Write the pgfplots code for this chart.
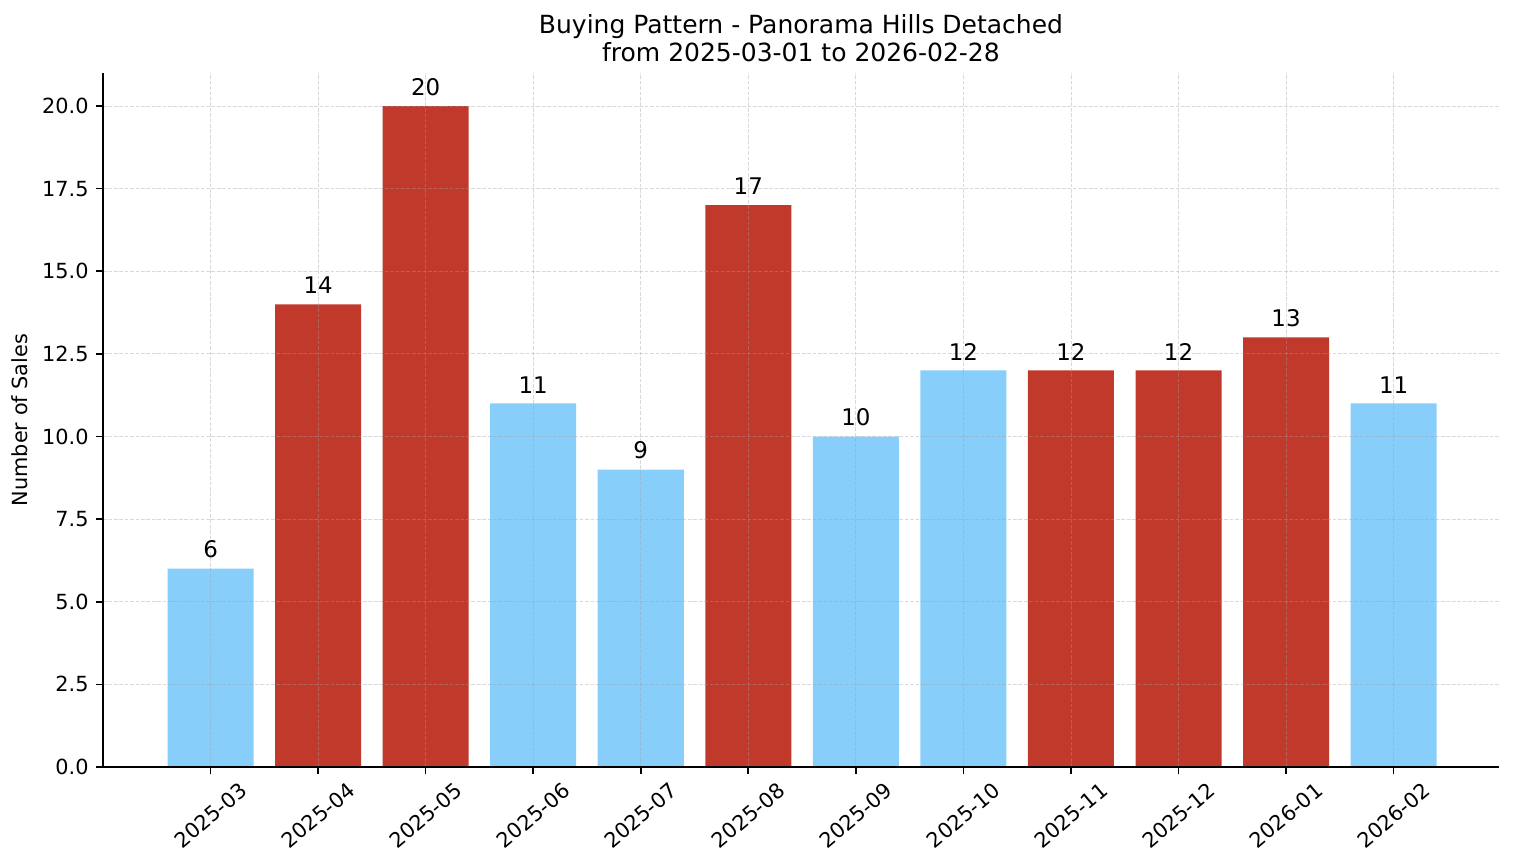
\documentclass[border=0pt]{standalone}
\usepackage{fontspec}
\setmainfont{DejaVu Sans}
\usepackage{pgfplots}
\pgfplotsset{compat=1.18}

\definecolor{barred}{HTML}{C0392B}
\definecolor{barblue}{HTML}{87CEFA}
\definecolor{gridgray}{HTML}{A0A0A0}

% 1 px of the reference = 0.48pt
\begin{document}
\begin{tikzpicture}
\path[use as bounding box] (-49.44pt,-46.08pt) rectangle (677.28pt,368.16pt);
\begin{axis}[
    at={(0,0)}, anchor=south west,
    scale only axis,
    width=670.08pt, height=333.12pt,
    xmin=-1.0, xmax=11.98,
    ymin=0, ymax=21,
    axis x line*=bottom, axis y line*=left,
    axis line style={-, line width=0.8pt},
    axis on top,
    ybar, bar width=0.8, bar shift=0pt,
    xtick={0,...,11},
    xticklabels={\rotatebox{40}{2025-03},\rotatebox{40}{2025-04},\rotatebox{40}{2025-05},
        \rotatebox{40}{2025-06},\rotatebox{40}{2025-07},\rotatebox{40}{2025-08},
        \rotatebox{40}{2025-09},\rotatebox{40}{2025-10},\rotatebox{40}{2025-11},
        \rotatebox{40}{2025-12},\rotatebox{40}{2026-01},\rotatebox{40}{2026-02}},
    xticklabel style={anchor=north, font=\fontsize{10}{12}\selectfont},
    ytick={0,2.5,...,20},
    yticklabel style={font=\fontsize{10}{12}\selectfont,
        /pgf/number format/.cd, fixed, fixed zerofill, precision=1},
    /pgf/number format/assume math mode=true,
    tick align=outside,
    major tick length=3.4pt,
    tick style={black, line width=0.8pt},
    grid=major,
    major grid style={gridgray, draw opacity=0.4, dash pattern=on 1.8pt off 0.8pt, line width=0.4pt},
    ylabel={Number of Sales},
    ylabel style={font=\fontsize{10}{12}\selectfont},
    title={Buying Pattern - Panorama Hills Detached\\from 2025-03-01 to 2026-02-28},
    title style={at={(0.5,1)}, anchor=south, align=center, inner sep=0pt, yshift=-0.9pt,
        font=\fontsize{12}{13.4}\selectfont},
    nodes near coords,
    every node near coord/.append style={font=\fontsize{11}{13}\selectfont, black,
        inner sep=0pt, yshift=4.8pt},
]
\addplot[fill=barblue, draw=none] coordinates {
    (0,6) (3,11) (4,9) (6,10) (7,12) (11,11)
};
\addplot[fill=barred, draw=none] coordinates {
    (1,14) (2,20) (5,17) (8,12) (9,12) (10,13)
};
\end{axis}
\end{tikzpicture}
\end{document}
